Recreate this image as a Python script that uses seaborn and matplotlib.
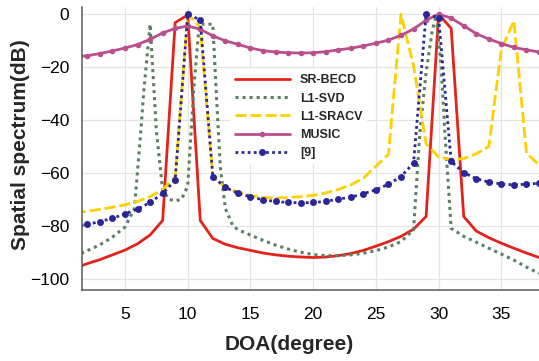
import seaborn as sns
import matplotlib.pyplot as plt

# valores (dB)
doa = list(range(1, 39))

sr_becd = [-96.0, -94.3, -92.8, -91.0, -89.2, -86.8, -83.5, -78.0, -3.2, -0.3,
           -78.0, -84.8, -87.0, -88.3, -89.3, -90.3, -91.0, -91.5, -91.8, -92.0,
           -91.8, -91.3, -90.5, -89.3, -87.7, -86.0, -84.0, -81.3, -76.5, 0.0,
           -5.4, -76.5, -82.0, -84.5, -86.6, -88.5, -90.3, -92.0]

# L1-SVD tem amostragem mais fina perto dos picos
l1_svd_doa = [1, 2, 3, 4, 5, 5.75, 6.25, 6.5, 7, 7.5, 8, 8.5, 9, 9.5, 10, 10.5,
              10.9, 11.1, 12, 12.3, 12.6, 13, 13.6, 14, 15, 16, 17, 18, 19, 20,
              21, 22, 23, 24, 25, 26, 27, 28, 28.5, 29, 29.5, 29.8, 30.2, 30.5,
              31, 32, 33, 34, 35, 36, 37, 38]
l1_svd = [-91.6, -89.4, -87.2, -84.3, -80.5, -73.5, -45.0, -29.0, -3.8, -44.0,
          -66.5, -70.0, -70.6, -70.0, -65.0, -27.0, -5.0, -3.8, -3.8, -32.0,
          -58.0, -73.5, -80.0, -81.5, -83.5, -85.5, -87.3, -88.8, -90.0, -90.9,
          -91.3, -91.3, -91.0, -90.4, -89.4, -88.0, -86.0, -81.5, -45.0, -22.0,
          -6.0, -0.6, -19.6, -45.0, -81.0, -84.0, -86.2, -88.5, -90.7, -93.0,
          -95.6, -98.0]

l1_sracv = [-75.0, -74.5, -73.8, -73.0, -72.1, -70.8, -69.0, -66.4, -61.5, 0.0,
            -5.0, -61.5, -65.5, -67.3, -68.5, -69.3, -69.5, -69.3, -69.0, -68.5,
            -67.6, -66.3, -64.5, -62.0, -57.5, -53.0, 0.0, -19.5, -49.0, -54.0,
            -55.0, -54.6, -52.8, -50.0, -13.3, -2.5, -52.5, -57.0]

music = [-16.2, -15.7, -14.9, -13.9, -12.8, -11.5, -9.5, -7.1, -5.4, -4.5,
         -5.7, -8.2, -10.1, -11.4, -12.8, -13.8, -14.3, -14.6, -14.7, -14.6,
         -14.2, -13.5, -12.9, -12.0, -11.0, -9.8, -8.0, -5.6, -2.3, 0.0,
         -1.5, -4.4, -7.4, -9.4, -11.1, -12.6, -13.5, -14.3]

ref9 = [-80.2, -79.5, -78.4, -77.2, -75.5, -73.7, -71.2, -67.8, -62.8, 0.0,
        -2.2, -61.4, -65.5, -67.7, -69.0, -70.2, -70.8, -71.2, -71.3, -71.2,
        -70.8, -69.9, -69.2, -67.9, -66.4, -64.3, -61.4, -56.3, 0.0, -1.3,
        -55.7, -59.9, -62.2, -63.5, -64.2, -64.5, -64.3, -63.9]

sns.set_theme(style="white")
plt.rcParams['font.family'] = ['Liberation Sans', 'DejaVu Sans']

fig = plt.figure(figsize=(5.39, 3.61), dpi=100)
ax = fig.add_axes([0.1516, 0.1958, 0.8484, 0.7848])

sns.lineplot(x=doa, y=sr_becd, ax=ax, color='#e3231b', lw=2, label='SR-BECD')
sns.lineplot(x=l1_svd_doa, y=l1_svd, ax=ax, color='#5b7f5f', lw=2.2,
             linestyle=(0, (1, 1.3)), label='L1-SVD')
sns.lineplot(x=doa, y=l1_sracv, ax=ax, color='#ffd000', lw=2,
             linestyle=(0, (4, 1.4)), label='L1-SRACV')
sns.lineplot(x=doa, y=music, ax=ax, color='#b94f8b', lw=2, marker='o',
             markersize=4, markeredgewidth=0, label='MUSIC')
sns.lineplot(x=doa, y=ref9, ax=ax, color='#2b2598', lw=2, linestyle=(0, (1, 1.2)),
             marker='o', markersize=5, markeredgewidth=0, label='[9]')

ax.set_xlim(1.55, 38)
ax.set_ylim(-104.4, 2.7)
ax.set_xticks([5, 10, 15, 20, 25, 30, 35])
ax.set_yticks([0, -20, -40, -60, -80, -100])

ax.grid(True, color='#e4e4e4', lw=0.9)
ax.set_axisbelow(True)
for s in ['top', 'right']:
    ax.spines[s].set_visible(False)
for s in ['left', 'bottom']:
    ax.spines[s].set_color('#5a5a5a')
    ax.spines[s].set_linewidth(1.1)

ax.tick_params(direction='in', length=4, width=0.9, color='#5a5a5a',
               labelcolor='black', labelsize=12.5)
ax.tick_params(axis='x', pad=12)
ax.tick_params(axis='y', pad=9)

ax.set_xlabel('DOA(degree)', fontsize=15, fontweight='bold')
ax.set_ylabel('Spatial spectrum(dB)', fontsize=15, fontweight='bold')
# figura original cortada a direita: rotulos fora do centro do eixo
ax.xaxis.set_label_coords(0.454, -0.158)
ax.yaxis.set_label_coords(-0.113, 0.513)

ax.legend(loc='upper left', bbox_to_anchor=(0.324, 0.78), borderaxespad=0,
          prop={'size': 9, 'weight': 'bold'}, handlelength=4.4,
          handletextpad=0.8, labelspacing=0.5, numpoints=1,
          frameon=True, facecolor='white', edgecolor='none', framealpha=1,
          fancybox=False)

fig.savefig('out.png', dpi=100)
